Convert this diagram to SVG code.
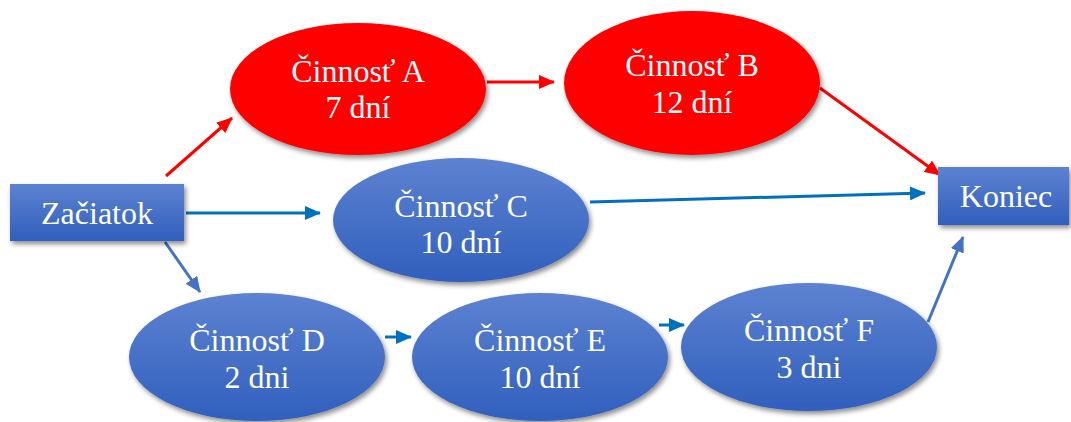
<svg xmlns="http://www.w3.org/2000/svg" width="1071" height="422" viewBox="0 0 1071 422">
<style>
text{font-family:'Liberation Serif','Times New Roman',Times,'DejaVu Serif',serif;font-size:32px;fill:#fff;text-anchor:middle}
.red{fill:#ff0000}
.blue{fill:url(#gb)}
.cr{stroke:#ff0000;stroke-width:3;fill:none}
.cb{stroke:#0070c0;stroke-width:3;fill:none}
.cl{stroke:#4472c4;stroke-width:3;fill:none}
</style>
<defs>
<linearGradient id="gb" x1="0" y1="0" x2="0" y2="1">
<stop offset="0" stop-color="#5d82d1"/>
<stop offset="1" stop-color="#305fbd"/>
</linearGradient>
<filter id="sh" x="-20%" y="-20%" width="140%" height="150%">
<feDropShadow dx="2" dy="3" stdDeviation="2.5" flood-color="#000" flood-opacity="0.45"/>
</filter>
<marker id="mr" markerUnits="userSpaceOnUse" markerWidth="16" markerHeight="14" refX="15" refY="7" orient="auto"><path d="M0,0 L16,7 L0,14 Z" fill="#ff0000"/></marker>
<marker id="mb" markerUnits="userSpaceOnUse" markerWidth="16" markerHeight="14" refX="15" refY="7" orient="auto"><path d="M0,0 L16,7 L0,14 Z" fill="#0070c0"/></marker>
<marker id="ml" markerUnits="userSpaceOnUse" markerWidth="16" markerHeight="14" refX="15" refY="7" orient="auto"><path d="M0,0 L16,7 L0,14 Z" fill="#4472c4"/></marker>
</defs>
<rect width="1071" height="422" fill="#fff"/>
<g id="connectors">
<line class="cr" x1="166" y1="176" x2="232" y2="118" marker-end="url(#mr)"/>
<line class="cr" x1="487" y1="82" x2="554" y2="82" marker-end="url(#mr)"/>
<line class="cr" x1="820" y1="88" x2="940" y2="175" marker-end="url(#mr)"/>
<line class="cb" x1="186" y1="213" x2="320" y2="213" marker-end="url(#mb)"/>
<line class="cb" x1="590" y1="202" x2="925" y2="193" marker-end="url(#mb)"/>
<line class="cl" x1="165" y1="242" x2="200" y2="292" marker-end="url(#ml)"/>
<line class="cb" x1="385" y1="337" x2="411" y2="337" marker-end="url(#mb)"/>
<line class="cb" x1="659" y1="325" x2="684" y2="325" marker-end="url(#mb)"/>
<line class="cl" x1="928" y1="322" x2="963" y2="237" marker-end="url(#ml)"/>
</g>
<g id="zaciatok">
<rect x="10" y="184" width="174" height="57" class="blue" filter="url(#sh)"/>
<text x="97" y="224">Začiatok</text>
</g>
<g id="koniec">
<rect x="938" y="167" width="131" height="58" class="blue" filter="url(#sh)"/>
<text x="1006" y="207">Koniec</text>
</g>
<g id="a">
<ellipse cx="358" cy="89" rx="128" ry="66" class="red" filter="url(#sh)"/>
<text x="358" y="82">Činnosť A</text>
<text x="358" y="118">7 dní</text>
</g>
<g id="b">
<ellipse cx="692" cy="83" rx="128" ry="72" class="red" filter="url(#sh)"/>
<text x="692" y="76">Činnosť B</text>
<text x="692" y="113">12 dní</text>
</g>
<g id="c">
<ellipse cx="461" cy="220" rx="128" ry="62" class="blue" filter="url(#sh)"/>
<text x="461" y="217">Činnosť C</text>
<text x="461" y="253">10 dní</text>
</g>
<g id="d">
<ellipse cx="257" cy="357" rx="128" ry="64" class="blue" filter="url(#sh)"/>
<text x="257" y="351">Činnosť D</text>
<text x="257" y="388">2 dni</text>
</g>
<g id="e">
<ellipse cx="540" cy="357" rx="128" ry="64" class="blue" filter="url(#sh)"/>
<text x="540" y="351">Činnosť E</text>
<text x="540" y="388">10 dní</text>
</g>
<g id="f">
<ellipse cx="809" cy="347" rx="128" ry="64" class="blue" filter="url(#sh)"/>
<text x="809" y="341">Činnosť F</text>
<text x="809" y="378">3 dni</text>
</g>
</svg>
